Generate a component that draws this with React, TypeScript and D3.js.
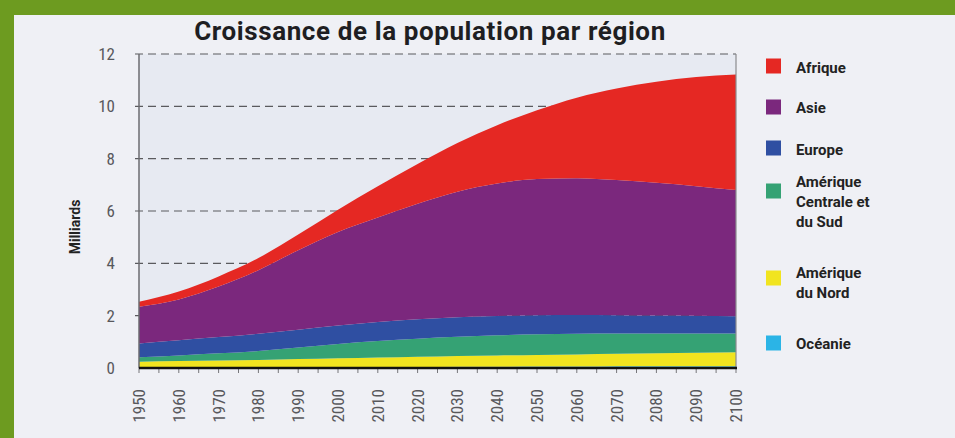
import React, { useEffect, useRef } from 'react';
import * as d3 from 'd3';

// data, in billions (milliards)
const years = [1950, 1960, 1970, 1980, 1990, 2000, 2010, 2020, 2030, 2040, 2050, 2060, 2070, 2080, 2090, 2100];
const oceanie = [0.01, 0.02, 0.02, 0.02, 0.03, 0.03, 0.04, 0.04, 0.05, 0.05, 0.06, 0.06, 0.07, 0.07, 0.07, 0.07];
const ameriqueNord = [0.23, 0.25, 0.27, 0.29, 0.31, 0.34, 0.36, 0.39, 0.41, 0.43, 0.44, 0.46, 0.47, 0.49, 0.51, 0.53];
const ameriqueSud = [0.17, 0.21, 0.27, 0.34, 0.44, 0.55, 0.63, 0.69, 0.73, 0.77, 0.79, 0.79, 0.78, 0.76, 0.74, 0.72];
const europe = [0.53, 0.58, 0.62, 0.66, 0.68, 0.7, 0.73, 0.74, 0.75, 0.74, 0.73, 0.72, 0.7, 0.69, 0.68, 0.66];
const asie = [1.4, 1.56, 1.93, 2.43, 3.04, 3.58, 3.99, 4.42, 4.8, 5.06, 5.2, 5.22, 5.16, 5.07, 4.95, 4.82];
const afrique = [0.19, 0.3, 0.39, 0.46, 0.6, 0.85, 1.2, 1.52, 1.86, 2.23, 2.63, 3.08, 3.5, 3.86, 4.17, 4.42];

const yTicks = [0, 2, 4, 6, 8, 10, 12];

// stacking order: bottom to top
const series = [
  { key: 'oceanie', label: ['Océanie'], values: oceanie, color: '#2bb4e6' },
  { key: 'nord', label: ['Amérique', 'du Nord'], values: ameriqueNord, color: '#f1e41f' },
  { key: 'sud', label: ['Amérique', 'Centrale et', 'du Sud'], values: ameriqueSud, color: '#35a274' },
  { key: 'europe', label: ['Europe'], values: europe, color: '#2f4fa2' },
  { key: 'asie', label: ['Asie'], values: asie, color: '#7b287d' },
  { key: 'afrique', label: ['Afrique'], values: afrique, color: '#e52823' },
];

const legendRows = [
  { key: 'afrique', y: 66, textY: 73 },
  { key: 'asie', y: 107, textY: 113 },
  { key: 'europe', y: 148, textY: 155 },
  { key: 'sud', y: 191, textY: 187 },
  { key: 'nord', y: 278, textY: 278 },
  { key: 'oceanie', y: 343, textY: 349 },
];

function App() {
  const svgRef = useRef<SVGSVGElement>(null);

  useEffect(() => {
    const width = 955;
    const height = 438;
    const margin = { top: 54, right: 219, bottom: 70, left: 139 };
    const boundedWidth = width - margin.left - margin.right;
    const boundedHeight = height - margin.top - margin.bottom;
    const narrow = '"Liberation Sans Narrow", "Roboto Condensed", "Arial Narrow", sans-serif';

    const svg = d3.select(svgRef.current).attr('width', width).attr('height', height);
    svg.selectAll('*').remove();

    // background + green frame
    svg.append('rect').attr('width', width).attr('height', height).attr('fill', '#6d9b20');
    svg.append('rect').attr('x', 14).attr('y', 15).attr('width', width - 14).attr('height', height - 15).attr('fill', '#eff0f5');

    const bounds = svg.append('g').attr('transform', `translate(${margin.left},${margin.top})`);

    const xScale = d3.scaleLinear().domain([1950, 2100]).range([0, boundedWidth]);
    const yScale = d3.scaleLinear().domain([0, 12]).range([boundedHeight, 0]);

    bounds.append('rect').attr('width', boundedWidth).attr('height', boundedHeight).attr('fill', '#e7eaf2');

    // stacked areas
    const table = years.map((year, i) => {
      const row: Record<string, number> = { year };
      series.forEach((s) => (row[s.key] = s.values[i]));
      return row;
    });
    const stack = d3.stack<Record<string, number>>().keys(series.map((s) => s.key));
    const layers = stack(table);

    // grid lines
    bounds
      .append('g')
      .selectAll('line')
      .data(yTicks.filter((t) => t > 0))
      .join('line')
      .attr('x1', -4)
      .attr('x2', boundedWidth)
      .attr('y1', (d) => yScale(d))
      .attr('y2', (d) => yScale(d))
      .attr('stroke', '#5a5a5e')
      .attr('stroke-width', 1.2)
      .attr('stroke-dasharray', '8,5');

    const area = d3
      .area<d3.SeriesPoint<Record<string, number>>>()
      .x((d) => xScale(d.data.year))
      .y0((d) => yScale(d[0]))
      .y1((d) => yScale(d[1]))
      .curve(d3.curveMonotoneX);

    bounds
      .append('g')
      .selectAll('path')
      .data(layers)
      .join('path')
      .attr('d', (d) => area(d))
      .attr('fill', (d, i) => series[i].color);

    // left and right borders
    bounds.append('line').attr('x1', 0).attr('x2', 0).attr('y1', 0).attr('y2', boundedHeight).attr('stroke', '#6b6b6f').attr('stroke-width', 1.5);
    bounds.append('line').attr('x1', boundedWidth).attr('x2', boundedWidth).attr('y1', 0).attr('y2', boundedHeight).attr('stroke', '#8a8a8e').attr('stroke-width', 1.2);

    // x axis
    const minorTicks = d3.range(1950, 2101, 5);
    bounds
      .append('g')
      .selectAll('line')
      .data(minorTicks)
      .join('line')
      .attr('x1', (d) => xScale(d))
      .attr('x2', (d) => xScale(d))
      .attr('y1', boundedHeight)
      .attr('y2', boundedHeight + 5)
      .attr('stroke', '#77777b')
      .attr('stroke-width', 1);
    bounds.append('line').attr('x1', 0).attr('x2', boundedWidth + 1).attr('y1', boundedHeight).attr('y2', boundedHeight).attr('stroke', '#111').attr('stroke-width', 2.5);

    bounds
      .append('g')
      .selectAll('text')
      .data(years)
      .join('text')
      .attr('transform', (d) => `translate(${xScale(d)},${boundedHeight + 21}) rotate(-90)`)
      .attr('text-anchor', 'end')
      .attr('dy', '0.35em')
      .attr('font-family', narrow)
      .attr('font-size', 17)
      .attr('fill', '#58585c')
      .text((d) => d);

    // y labels
    bounds
      .append('g')
      .selectAll('text')
      .data(yTicks)
      .join('text')
      .attr('x', -24)
      .attr('y', (d) => yScale(d))
      .attr('dy', '0.35em')
      .attr('text-anchor', 'end')
      .attr('font-family', narrow)
      .attr('font-size', 17)
      .attr('fill', '#58585c')
      .text((d) => d);

    svg
      .append('text')
      .attr('transform', `translate(75,${margin.top + boundedHeight / 2 + 16}) rotate(-90)`)
      .attr('text-anchor', 'middle')
      .attr('dy', '0.35em')
      .attr('font-family', 'Roboto, sans-serif')
      .attr('font-weight', 'bold')
      .attr('font-size', 14)
      .attr('fill', '#222')
      .text('Milliards');

    // title
    svg
      .append('text')
      .attr('x', 430)
      .attr('y', 40)
      .attr('text-anchor', 'middle')
      .attr('font-family', 'Roboto, sans-serif')
      .attr('font-weight', 'bold')
      .attr('font-size', 26)
      .attr('letter-spacing', 0.6)
      .attr('fill', '#1e1e22')
      .text('Croissance de la population par région');

    // legend
    const legend = svg.append('g');
    legendRows.forEach((row) => {
      const s = series.find((d) => d.key === row.key)!;
      legend.append('rect').attr('x', 766).attr('y', row.y - 7.5).attr('width', 15).attr('height', 15).attr('fill', s.color);
      const text = legend
        .append('text')
        .attr('x', 796)
        .attr('y', row.textY)
        .attr('font-family', 'Roboto, sans-serif')
        .attr('font-weight', 'bold')
        .attr('font-size', 15)
        .attr('fill', '#222');
      s.label.forEach((line, i) => {
        text.append('tspan').attr('x', 796).attr('dy', i === 0 ? 0 : 20).text(line);
      });
    });
  }, []);

  return (
    <div style={{ position: 'absolute', top: 0, left: 0 }}>
      <svg ref={svgRef} style={{ display: 'block' }} />
    </div>
  );
}

export default App;
